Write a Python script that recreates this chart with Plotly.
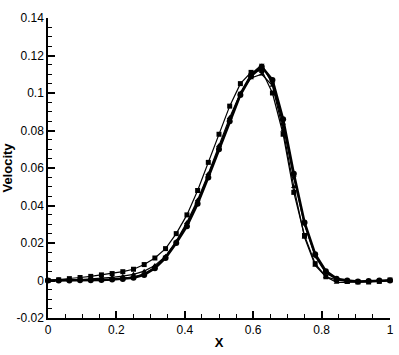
import plotly.graph_objects as go

x_vals = [i / 32 for i in range(33)]

v_circle = [0, 0, 0, 0.0001, 0.0002, 0.0003, 0.0005, 0.0008, 0.0015, 0.003, 0.0065,
            0.012, 0.020, 0.029, 0.041, 0.055, 0.070, 0.085, 0.099, 0.109, 0.114,
            0.107, 0.086, 0.057, 0.031, 0.014, 0.005, 0.001, 0, -0.0005, -0.0003, 0, 0]

v_square = [0, 0.0004, 0.001, 0.0016, 0.0022, 0.003, 0.0037, 0.0047, 0.006, 0.0085, 0.012,
            0.017, 0.025, 0.035, 0.048, 0.063, 0.078, 0.093, 0.105, 0.111, 0.112,
            0.100, 0.078, 0.047, 0.024, 0.009, 0.002, 0.0003, -0.0005, -0.0008, -0.0008, -0.0005, 0.0003]

v_tri_up = [0, 0, 0.0002, 0.0005, 0.0008, 0.0012, 0.0017, 0.0023, 0.0033, 0.005, 0.008,
            0.013, 0.021, 0.031, 0.043, 0.057, 0.072, 0.087, 0.100, 0.108, 0.110,
            0.104, 0.080, 0.050, 0.023, 0.008, 0.002, -0.001, -0.001, -0.0008, -0.0005, 0, 0]

v_tri_down = [0, 0, 0, 0.0001, 0.0002, 0.0004, 0.0006, 0.001, 0.0018, 0.0035, 0.007,
              0.0125, 0.0205, 0.030, 0.042, 0.056, 0.071, 0.086, 0.100, 0.110, 0.115,
              0.105, 0.083, 0.055, 0.030, 0.013, 0.004, 0.0008, -0.0003, -0.0006, -0.0004, 0, 0.0002]

x_ticks = [0, 0.2, 0.4, 0.6, 0.8, 1]
x_tick_text = ["0", "0.2", "0.4", "0.6", "0.8", "1"]
y_ticks = [-0.02, 0, 0.02, 0.04, 0.06, 0.08, 0.1, 0.12, 0.14]
y_tick_text = ["-0.02", "0", "0.02", "0.04", "0.06", "0.08", "0.1", "0.12", "0.14"]

series = [
    ("circle", v_circle, 2.5, 6),
    ("square", v_square, 1.2, 5),
    ("triangle-up", v_tri_up, 1.2, 5),
    ("triangle-down", v_tri_down, 1.5, 5),
]

fig = go.Figure()
for sym, vals, lw, ms in series:
    fig.add_trace(go.Scatter(
        x=x_vals, y=vals, mode="lines+markers",
        line=dict(color="black", width=lw),
        marker=dict(symbol=sym, size=ms, color="black"),
        cliponaxis=False, showlegend=False,
    ))

font = dict(family="Liberation Sans, Arial, sans-serif", size=12, color="black")

fig.update_layout(
    width=399, height=355,
    margin=dict(l=48, r=9, t=18, b=37),
    paper_bgcolor="white", plot_bgcolor="white",
    font=font,
    xaxis=dict(
        range=[0, 1], tickmode="array", tickvals=x_ticks, ticktext=x_tick_text,
        automargin=False,
        showline=True, linecolor="black", linewidth=1.5,
        ticks="inside", ticklen=7, tickwidth=1.5, tickcolor="black",
        minor=dict(tickmode="linear", tick0=0, dtick=0.05, ticks="inside", ticklen=4,
                   tickcolor="black", tickwidth=1),
        showgrid=False, zeroline=False,
        title=dict(text="<b>X</b>", font=dict(size=13), standoff=2),
    ),
    yaxis=dict(
        range=[-0.02, 0.14], tickmode="array", tickvals=y_ticks, ticktext=y_tick_text,
        automargin=False,
        showline=True, linecolor="black", linewidth=1.5,
        ticks="inside", ticklen=7, tickwidth=1.5, tickcolor="black",
        minor=dict(tickmode="linear", tick0=0, dtick=0.005, ticks="inside", ticklen=4,
                   tickcolor="black", tickwidth=1),
        showgrid=False, zeroline=False,
        title=dict(text="<b>Velocity</b>", font=dict(size=13), standoff=4),
    ),
)

fig.write_html("out.html", config={"displayModeBar": False},
               post_script="document.body.style.margin='0';")
